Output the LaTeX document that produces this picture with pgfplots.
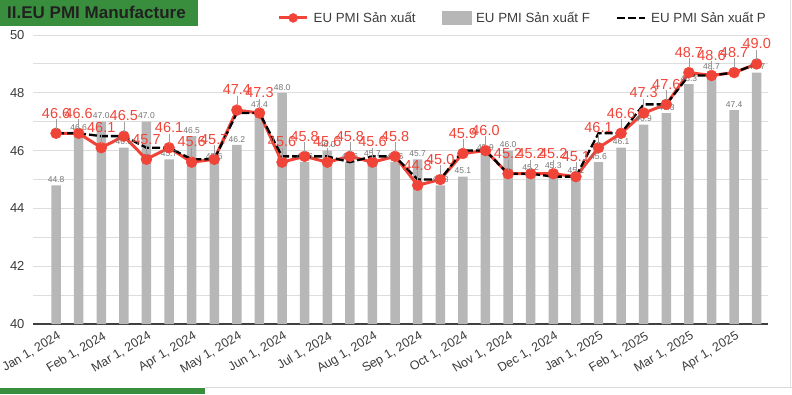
\documentclass[border=0pt]{standalone}
\usepackage{pgfplots}
\pgfplotsset{compat=1.18}
\usepackage{pgfplotstable}
\usepackage{fontspec}
\setmainfont{Liberation Sans}
\definecolor{pmired}{RGB}{240,68,56}
\definecolor{bargray}{RGB}{183,183,183}
\definecolor{titlegreen}{RGB}{56,142,60}
\definecolor{gridgray}{RGB}{221,221,221}
\definecolor{txtgray}{RGB}{60,60,60}
\definecolor{lblgray}{RGB}{117,117,117}

\pgfplotstableread{
i F R P
0 44.8 46.6 46.6
1 46.6 46.6 46.6
2 47.0 46.1 46.5
3 46.1 46.5 46.5
4 47.0 45.7 46.1
5 45.7 46.1 46.1
6 46.5 45.6 45.7
7 45.6 45.7 45.7
8 46.2 47.4 47.3
9 47.4 47.3 47.3
10 48.0 45.6 45.8
11 45.6 45.8 45.8
12 46.0 45.6 45.8
13 45.6 45.8 45.6
14 45.7 45.6 45.8
15 45.6 45.8 45.8
16 45.7 44.8 45.0
17 44.8 45.0 45.0
18 45.1 45.9 46.0
19 45.9 46.0 46.0
20 46.0 45.2 45.2
21 45.2 45.2 45.2
22 45.3 45.2 45.1
23 45.1 45.1 45.1
24 45.6 46.1 46.6
25 46.1 46.6 46.6
26 46.9 47.3 47.6
27 47.3 47.6 47.6
28 48.3 48.7 48.6
29 48.7 48.6 48.6
30 47.4 48.7 48.7
31 48.7 49.0 49.0
}\pmidata

\begin{document}
\begin{tikzpicture}
\useasboundingbox (0pt,0pt) rectangle (792pt,394pt);
\fill[titlegreen] (0pt,368pt) rectangle (198pt,394pt);
\node[anchor=base west, font=\bfseries\fontsize{17}{19}\selectfont, text=black!87, inner sep=0pt] at (7pt,375.5pt) {II.EU PMI Manufacture};
\fill[titlegreen] (0pt,0pt) rectangle (205pt,6pt);
\draw[black!15, line width=1pt] (205pt,6.5pt) -- (792pt,6.5pt);
\draw[black!12, line width=1pt] (790pt,7pt) -- (790pt,394pt);

\begin{axis}[
  at={(33pt,70pt)}, anchor=south west,
  scale only axis, width=735pt, height=289pt,
  xmin=-1.02, xmax=31.5, ymin=40, ymax=50,
  clip=false,
  axis x line*=bottom, axis y line*=left,
  y axis line style={draw=none},
  x axis line style={draw=black!75, line width=1.1pt},
  ytick={40,42,...,50}, minor ytick={41,43,...,49},
  ymajorgrids, yminorgrids,
  major grid style={gridgray, line width=0.9pt},
  minor grid style={gridgray, line width=0.9pt},
  major tick length=0pt, minor tick length=0pt,
  xtick={0,2,...,30},
  xticklabels={{Jan 1, 2024},{Feb 1, 2024},{Mar 1, 2024},{Apr 1, 2024},{May 1, 2024},{Jun 1, 2024},{Jul 1, 2024},{Aug 1, 2024},{Sep 1, 2024},{Oct 1, 2024},{Nov 1, 2024},{Dec 1, 2024},{Jan 1, 2025},{Feb 1, 2025},{Mar 1, 2025},{Apr 1, 2025}},
  /pgf/number format/assume math mode=true,
  yticklabel style={font=\fontsize{13}{15}\selectfont, text=txtgray, xshift=-5pt},
  xticklabel style={font=\fontsize{12.5}{14}\selectfont, text=txtgray, rotate=31, anchor=north east, inner sep=1pt, yshift=-5pt, xshift=-1.5pt},
  legend columns=3,
  legend style={at={(1,1)}, anchor=south east, yshift=9pt, draw=none, fill=none,
    font=\fontsize{13.3}{15}\selectfont, text=txtgray, inner sep=0pt,
    /tikz/every odd column/.append style={column sep=3pt},
    /tikz/every even column/.append style={column sep=24pt}},
]
\addplot[ybar, bar width=0.42, fill=bargray, draw=none, forget plot,
  nodes near coords={\pgfmathprintnumber[fixed,fixed zerofill,precision=1]{\pgfplotspointmeta}},
  nodes near coords style={font=\fontsize{8.5}{9}\selectfont, text=lblgray, anchor=south, inner sep=0pt, yshift=2.5pt}]
  table[x=i,y=F]{\pmidata};
\addplot[pmired, line width=3pt, forget plot] table[x=i,y=R]{\pmidata};
\addplot[black, line width=2.3pt, dash pattern=on 8pt off 3pt, forget plot] table[x=i,y=P]{\pmidata};
\addplot[only marks, mark=*, mark size=5.5pt, mark options={fill=pmired, draw=pmired}, forget plot,
  nodes near coords={\pgfmathprintnumber[fixed,fixed zerofill,precision=1]{\pgfplotspointmeta}\\[-4pt]\textcolor{lblgray!70}{\rule{0.7pt}{10pt}}},
  nodes near coords style={font=\fontsize{14.5}{15}\selectfont, text=pmired, anchor=south, inner sep=0pt, yshift=4pt, align=center}]
  table[x=i,y=R]{\pmidata};

\addlegendimage{legend image code/.code={\draw[pmired, line width=3pt] (0pt,0pt) -- (28pt,0pt); \fill[pmired] (14pt,0pt) circle (4.5pt);}}
\addlegendentry{EU PMI Sản xuất}
\addlegendimage{legend image code/.code={\fill[bargray] (0pt,-6pt) rectangle (29pt,7pt);}}
\addlegendentry{EU PMI Sản xuất F}
\addlegendimage{legend image code/.code={\draw[black, line width=2.3pt, dash pattern=on 8pt off 3pt] (0pt,0pt) -- (28pt,0pt);}}
\addlegendentry{EU PMI Sản xuất P}
\end{axis}
\end{tikzpicture}
\end{document}
